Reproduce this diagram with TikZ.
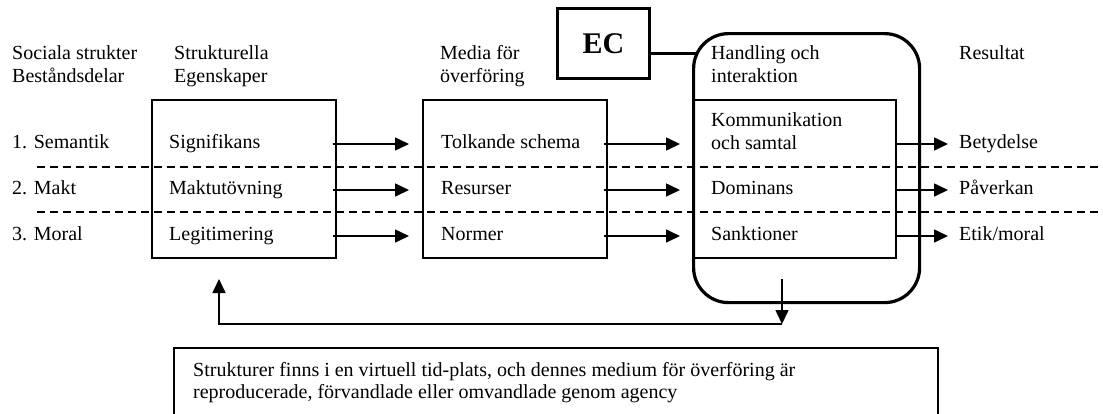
\documentclass[tikz,border=0pt]{standalone}
\usepackage{fontspec}
\setmainfont{Liberation Serif}
\usetikzlibrary{arrows.meta}

\begin{document}
\begin{tikzpicture}[x=1pt,y=-1pt,>={Triangle[length=14pt,width=13pt]},
    every node/.style={font=\fontsize{20}{23}\selectfont,inner sep=0pt},
    hdr/.style={anchor=base west,align=left},
    cell/.style={anchor=west,text height=14pt,text depth=5pt},
    frame/.style={draw,line width=1.6pt,anchor=north west},
    arr/.style={->,line width=1.6pt},
    sep/.style={dash pattern=on 8pt off 5pt,line width=1.4pt}]
  \useasboundingbox (0,0) rectangle (1103,413);

  % rows and their separators
  \coordinate (r1) at (0,144);
  \coordinate (r2) at (0,190);
  \coordinate (r3) at (0,236);
  \draw[sep] (37,167) -- (1103,167);
  \draw[sep] (37,212) -- (1103,212);

  % boxes
  \node[frame,minimum width=184pt,minimum height=158pt] (prop) at (151,99) {};
  \node[frame,minimum width=184pt,minimum height=158pt] (media) at (422,99) {};
  \node[draw,line width=3.2pt,rounded corners=35pt,anchor=north west,
        minimum width=226pt,minimum height=269pt] (agency) at (692,32) {};
  \node[frame,minimum width=202pt,minimum height=158pt] (act) at (693,99) {};
  \node[draw,line width=3pt,anchor=north west,minimum width=92pt,minimum height=70pt,
        font=\fontsize{30}{36}\selectfont\bfseries] (ec) at (556,7) {EC};
  \coordinate (eclink) at (696,53);
  \draw[line width=3pt] (ec.east |- eclink) -- (eclink);

  % column heads (base = last line)
  \node[hdr] (soc) at (12,82) {Sociala strukter\\Beståndsdelar};
  \node[hdr] (sprop) at (174,82) {Strukturella\\Egenskaper};
  \node[hdr] (smed) at (440,82) {Media för\\överföring};
  \node[hdr] (shand) at (711,82) {Handling och\\interaktion};
  \node[hdr] (sres) at (959,59) {Resultat};

  % row texts
  \node[cell] (sem) at (12,144) {1. Semantik};
  \node[cell] (makt) at (12,190) {2. Makt};
  \node[cell] (moral) at (12,236) {3. Moral};
  \node[cell] (sig) at (169,144) {Signifikans};
  \node[cell] (maktut) at (169,190) {Maktutövning};
  \node[cell] (legit) at (169,236) {Legitimering};
  \node[cell] (tolk) at (441,144) {Tolkande schema};
  \node[cell] (ress) at (441,190) {Resurser};
  \node[cell] (norm) at (441,236) {Normer};
  \node[hdr] (komm) at (711,149) {Kommunikation\\och samtal};
  \node[cell] (dom) at (711,190) {Dominans};
  \node[cell] (sank) at (711,236) {Sanktioner};
  \node[cell] (bet) at (959,144) {Betydelse};
  \node[cell] (pav) at (959,190) {Påverkan};
  \node[cell] (etik) at (959,236) {Etik/moral};

  \foreach \r in {r1,r2,r3}{
    \draw[arr] ([xshift=-4pt]prop.east |- \r) -- ([xshift=-13pt]media.west |- \r);
    \draw[arr] ([xshift=-4pt]media.east |- \r) -- ([xshift=-12pt]agency.west |- \r);
    \draw[arr] (act.east |- \r) -- ([xshift=-11pt]sres.west |- \r);
  }

  % feedback loop
  \coordinate (fbstart) at (782,279);
  \coordinate (fb) at (782,324);
  \coordinate (fbend) at (219,279);
  \draw[arr] (fbstart) -- (fb);
  \draw[arr] (fb) -| (fbend);

  \node[frame,minimum width=764pt,minimum height=80pt] (note) at (173,347) {};
  \node[hdr,font=\fontsize{20}{22}\selectfont] (notetxt) at (193,398)
    {Strukturer finns i en virtuell tid-plats, och dennes medium för överföring är\\
     reproducerade, förvandlade eller omvandlade genom agency};
\end{tikzpicture}
\end{document}
